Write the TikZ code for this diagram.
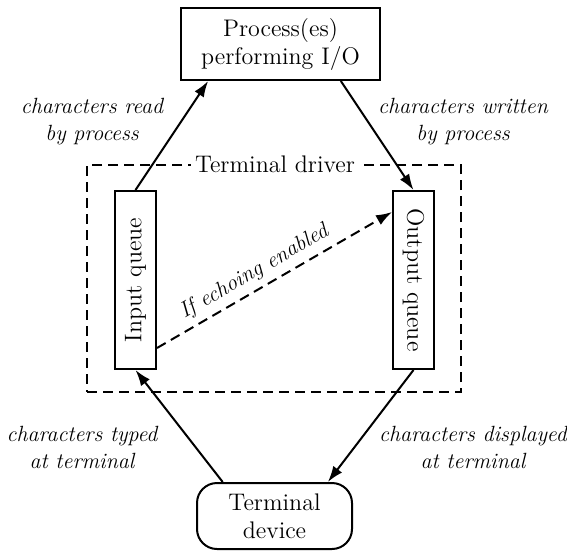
\documentclass[tikz,border=0pt]{standalone}
\usepackage{tikz}
\usetikzlibrary{arrows.meta,calc}

\tikzset{
  box/.style={draw, line width=1pt, inner sep=0pt, align=center, font=\fontsize{12}{14}\selectfont},
  lbl/.style={align=center, font=\fontsize{11}{13.5}\selectfont\itshape},
  flow/.style={line width=1pt, -{Latex[length=8pt,width=5.5pt]}},
}

\begin{document}
\begin{tikzpicture}[x=0.5pt, y=-0.5pt]

        \useasboundingbox (0,0) rectangle (567,552);

        \node[draw, line width=1pt, dash pattern=on 5pt off 3pt, minimum width=187pt, minimum height=113.5pt] (driver) at (274,278.5) {};

        \node[fill=white, inner sep=2pt, font=\fontsize{12}{14}\selectfont] (drvlabel) at (275,164) {Terminal driver};

        \node[box, minimum width=99.5pt, minimum height=36pt] (proc) at (280.5,44) {Process(es)\\performing I/O};

        \node[box, minimum width=20.5pt, minimum height=89pt] (inq) at (135.5,280) {\rotatebox{90}{Input queue}};

        \node[box, minimum width=20.5pt, minimum height=89pt] (outq) at (413.5,280) {\rotatebox{-90}{Output queue}};

        \node[box, rounded corners=10pt, minimum width=77.5pt, minimum height=33pt] (term) at (274.5,516) {Terminal\\device};

        \draw[flow] (inq.north) -- ($(proc.south west)!0.14!(proc.south east)$);

        \draw[flow] ($(proc.south west)!0.8!(proc.south east)$) -- (outq.north);

        \draw[flow, dash pattern=on 5pt off 3pt] ($(inq.east)+(0,68)$) -- node[pos=0.45, above, sloped, lbl, inner sep=3pt] (echo) {If echoing enabled} ($(outq.west)+(0,-68)$);

        \draw[flow] ($(term.north west)!0.17!(term.north east)$) -- (inq.south);

        \draw[flow] (outq.south) -- ($(term.north west)!0.84!(term.north east)$);

        \node[lbl] (rd) at (92,122) {characters read\\by process};

        \node[lbl] (wr) at (463,122) {characters written\\by process};

        \node[lbl] (typed) at (82,447) {characters typed\\at terminal};

        \node[lbl] (shown) at (473,447) {characters displayed\\at terminal};

    \end{tikzpicture}
\end{document}
